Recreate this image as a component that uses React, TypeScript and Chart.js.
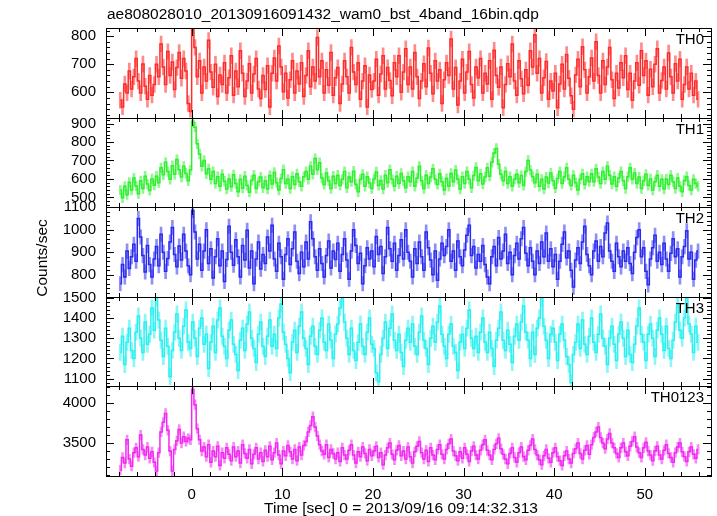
import React, { useEffect, useRef } from 'react';
import { Chart, registerables } from 'chart.js';

Chart.register(...registerables);

const TITLE = 'ae808028010_20130916091432_wam0_bst_4band_16bin.qdp';
const X_LABEL = 'Time [sec] 0 = 2013/09/16 09:14:32.313';
const Y_LABEL = 'Counts/sec';

// time bins (bin centres start at -7.875 s, 0.25 s per bin)
const BIN_START = -7.875;
const BIN_WIDTH = 0.25;
const X_MIN = -9.45;
const X_MAX = 57.3;
const X_TICKS = [0, 10, 20, 30, 40, 50];

const PANEL_NAMES = ['TH0', 'TH1', 'TH2', 'TH3', 'TH0123'];

const TH0 = [
  572, 548, 630, 598, 676, 612, 655, 720, 640, 598, 701, 622, 575, 660, 590, 628,
  700, 655, 772, 690, 628, 745, 660, 708, 610, 688, 742, 650, 720, 676, 560, 532,
  829, 760, 655, 712, 598, 690, 640, 785, 672, 618, 700, 585, 662, 628, 705, 598,
  652, 730, 590, 676, 620, 748, 668, 585, 640, 702, 598, 665, 720, 612, 578, 660,
  610, 695, 548, 668, 722, 640, 765, 690, 602, 668, 580, 645, 712, 598, 676, 630,
  705, 585, 660, 748, 620, 690, 640, 795, 655, 712, 598, 680, 625, 742, 590, 652,
  688, 560, 630, 712, 655, 598, 760, 672, 628, 705, 575, 640, 695, 548, 662, 610,
  640, 718, 590, 665, 730, 612, 688, 642, 588, 705, 655, 730, 600, 672, 755, 628,
  690, 612, 742, 655, 578, 640, 702, 620, 758, 668, 595, 712, 640, 680, 560, 645,
  705, 660, 790, 612, 688, 555, 640, 718, 598, 672, 745, 628, 580, 690, 652, 720,
  598, 668, 630, 712, 575, 750, 660, 618, 690, 545, 628, 702, 655, 772, 640, 590,
  712, 648, 595, 680, 625, 748, 690, 805, 668, 720, 598, 652, 710, 575, 640, 605,
  668, 545, 630, 700, 612, 735, 650, 588, 540, 662, 718, 620, 762, 680, 598, 655,
  722, 640, 780, 660, 598, 712, 628, 690, 760, 645, 578, 668, 615, 705, 652, 730,
  610, 668, 572, 640, 705, 625, 748, 660, 712, 590, 682, 620, 700, 755, 598, 642,
  690, 612, 740, 655, 598, 702, 640, 718, 575, 628, 690, 612, 668, 590, 640, 575,
];

const TH1 = [
  540, 498, 560, 515, 582, 540, 605, 562, 520, 590, 548, 615, 572, 538, 600, 566,
  615, 580, 660, 622, 690, 640, 598, 672, 625, 705, 650, 610, 668, 630, 590, 648,
  912, 880, 790, 735, 668, 700, 628, 655, 598, 640, 575, 612, 560, 625, 588, 545,
  600, 558, 622, 575, 530, 598, 550, 615, 565, 528, 592, 620, 548, 585, 610, 552,
  590, 545, 618, 572, 635, 580, 540, 602, 650, 575, 598, 548, 612, 570, 628, 585,
  560, 612, 640, 598, 668, 625, 710, 650, 688, 605, 570, 632, 590, 548, 615, 575,
  620, 565, 598, 640, 552, 610, 585, 642, 570, 530, 598, 625, 560, 612, 578, 548,
  600, 638, 565, 592, 545, 620, 580, 650, 598, 560, 615, 575, 630, 590, 552, 612,
  585, 640, 560, 605, 668, 590, 548, 620, 575, 610, 655, 598, 570, 628, 585, 540,
  602, 560, 630, 585, 648, 598, 545, 612, 575, 640, 598, 552, 618, 662, 590, 628,
  572, 610, 660, 615, 690, 740, 765, 680, 625, 590, 640, 575, 612, 560, 598, 625,
  580, 618, 565, 640, 700, 648, 612, 580, 625, 560, 598, 545, 610, 578, 632, 590,
  550, 602, 640, 575, 612, 660, 598, 565, 620, 580, 540, 598, 628, 570, 612, 585,
  628, 585, 655, 610, 575, 640, 598, 668, 620, 572, 612, 560, 605, 640, 590, 548,
  612, 660, 598, 632, 575, 610, 548, 590, 625, 565, 600, 540, 585, 620, 560, 598,
  545, 600, 570, 620, 585, 548, 605, 560, 530, 592, 612, 565, 540, 598, 575, 560,
];

const TH2 = [
  760, 845, 790, 905, 828, 880, 935, 860, 1050, 968, 885, 812, 930, 845, 790, 870,
  925, 840, 980, 900, 815, 872, 945, 1010, 890, 835, 928, 865, 980, 905, 840, 800,
  1085, 990, 870, 935, 820, 905, 1000, 850, 915, 785, 880, 960, 840, 905, 770, 868,
  1015, 900, 842, 955, 880, 790, 930, 865, 998, 830, 905, 760, 870, 945, 825, 890,
  850, 968, 905, 1020, 870, 815, 940, 880, 780, 890, 960, 845, 915, 990, 860, 805,
  900, 835, 945, 870, 1035, 960, 880, 820, 915, 850, 790, 885, 950, 830, 905, 868,
  940, 815, 890, 960, 865, 780, 905, 1000, 930, 850, 895, 760, 840, 920, 870, 905,
  835, 970, 890, 925, 805, 880, 1010, 915, 860, 940, 820, 885, 955, 870, 1000, 900,
  860, 790, 915, 850, 945, 880, 820, 990, 920, 865, 800, 905, 775, 870, 940, 885,
  925, 1000, 860, 905, 820, 950, 880, 840, 910, 975, 1020, 885, 925, 830, 890, 860,
  930, 845, 790, 760, 880, 925, 840, 965, 870, 905, 980, 850, 900, 800, 885, 940,
  870, 960, 1010, 895, 840, 920, 860, 800, 905, 850, 945, 880, 985, 860, 915, 835,
  890, 780, 860, 935, 990, 875, 905, 820, 745, 865, 920, 850, 945, 1015, 890, 840,
  800, 905, 950, 860, 925, 880, 985, 1030, 905, 860, 815, 940, 880, 835, 905, 860,
  920, 850, 805, 900, 965, 1000, 880, 920, 815, 755, 870, 920, 975, 860, 900, 845,
  940, 870, 815, 895, 960, 880, 915, 790, 880, 925, 995, 870, 900, 780, 865, 905,
];

const TH3 = [
  1230, 1310, 1170, 1280, 1350, 1240, 1200, 1330, 1410, 1300, 1230, 1380, 1270, 1320, 1450, 1340,
  1500, 1390, 1290, 1210, 1350, 1260, 1110, 1240, 1330, 1420, 1300, 1240, 1360, 1440, 1280, 1250,
  1380, 1300, 1210, 1350, 1400, 1270, 1320, 1150, 1280, 1360, 1230, 1390, 1450, 1310, 1260, 1200,
  1340, 1390, 1270, 1220, 1140, 1290, 1350, 1240, 1370, 1430, 1300, 1250, 1180, 1320, 1380, 1260,
  1210, 1310, 1390, 1260, 1320, 1250, 1400, 1470, 1330, 1270, 1200, 1130, 1280, 1340, 1230, 1360,
  1430, 1300, 1250, 1170, 1310, 1360, 1260, 1220, 1340, 1400, 1280, 1240, 1370, 1290, 1200, 1320,
  1370, 1450, 1500, 1380, 1300, 1220, 1350, 1240, 1190, 1280, 1370, 1260, 1220, 1330, 1400, 1270,
  1250, 1130, 1085, 1220, 1300, 1380, 1250, 1350, 1420, 1290, 1240, 1320, 1230, 1160, 1290, 1350,
  1280, 1370, 1260, 1220, 1330, 1410, 1290, 1250, 1170, 1300, 1360, 1280, 1380, 1460, 1320, 1260,
  1200, 1320, 1370, 1260, 1230, 1140, 1280, 1320, 1250, 1350, 1440, 1300, 1250, 1310, 1230, 1330,
  1400, 1280, 1230, 1330, 1250, 1160, 1290, 1350, 1430, 1290, 1240, 1340, 1270, 1180, 1310, 1370,
  1290, 1380, 1460, 1330, 1290, 1200, 1330, 1220, 1350, 1400, 1500, 1360, 1290, 1200, 1320, 1350,
  1280, 1190, 1320, 1370, 1290, 1210, 1170, 1080, 1220, 1280, 1370, 1250, 1390, 1270, 1220, 1310,
  1400, 1280, 1230, 1320, 1420, 1300, 1260, 1170, 1300, 1360, 1270, 1190, 1320, 1380, 1300, 1210,
  1340, 1220, 1180, 1270, 1360, 1450, 1320, 1280, 1190, 1320, 1370, 1300, 1210, 1340, 1400, 1320,
  1240, 1360, 1250, 1200, 1290, 1380, 1460, 1340, 1300, 1400, 1500, 1370, 1320, 1230, 1360, 1280,
];

const TH0123 = [
  3160, 3320, 3250, 3540, 3300, 3210, 3380, 3440, 3330, 3600, 3420, 3350, 3450, 3310, 3390, 3260,
  3150, 3380, 3640, 3760, 3870, 3660, 3400, 3150, 3420, 3530, 3670, 3500, 3580, 3520, 3560, 3540,
  4170, 3980, 3680, 3540, 3400, 3450, 3330, 3480, 3260, 3400, 3330, 3460, 3220, 3380, 3310, 3440,
  3360, 3280, 3450, 3330, 3400, 3250, 3480, 3370, 3310, 3420, 3240, 3360, 3440, 3300, 3380, 3270,
  3410, 3330, 3460, 3290, 3380, 3500, 3350, 3240, 3400, 3340, 3470, 3390, 3300, 3420, 3280, 3450,
  3350, 3470, 3520, 3640, 3720, 3830, 3700, 3590, 3480, 3400, 3360, 3480, 3320, 3420, 3370, 3300,
  3380, 3270, 3440, 3350, 3300, 3410, 3480, 3350, 3250, 3390, 3330, 3450, 3370, 3280, 3420, 3340,
  3400, 3460, 3320, 3380, 3230, 3350, 3440, 3500, 3360, 3290, 3410, 3470, 3340, 3400, 3300, 3450,
  3330, 3250, 3390, 3460, 3520, 3380, 3300, 3410, 3270, 3440, 3350, 3290, 3420, 3480, 3360, 3300,
  3420, 3490, 3550, 3400, 3340, 3280, 3390, 3310, 3440, 3360, 3270, 3400, 3460, 3350, 3300, 3410,
  3480, 3540, 3410, 3350, 3290, 3420, 3490, 3560, 3430, 3360, 3300, 3240, 3370, 3440, 3320, 3260,
  3380, 3450, 3330, 3290, 3410, 3470, 3550, 3420, 3350, 3290, 3230, 3340, 3420, 3310, 3260, 3380,
  3440, 3330, 3280, 3220, 3340, 3400, 3300, 3250, 3370, 3430, 3500, 3370, 3300, 3410, 3470, 3360,
  3480, 3570, 3640, 3700, 3570, 3500, 3430, 3550, 3620, 3500, 3440, 3370, 3320, 3440, 3500, 3390,
  3340, 3460, 3520, 3580, 3450, 3380, 3320, 3440, 3510, 3400, 3350, 3280, 3400, 3460, 3350, 3300,
  3410, 3480, 3370, 3320, 3260, 3380, 3450, 3500, 3390, 3330, 3270, 3390, 3450, 3360, 3310, 3420,
];

const SERIES = [TH0, TH1, TH2, TH3, TH0123];
const PANEL_ERRORS = [28, 26, 32, 40, 60];
const PANEL_MIN = [510, 447, 702, 1062, 3088];
const PANEL_MAX = [829, 932, 1100, 1505, 4209];
const Y_TICKS_TH0 = [600, 700, 800];
const Y_TICKS_TH1 = [500, 600, 700, 800, 900];
const Y_TICKS_TH2 = [800, 900, 1000, 1100];
const Y_TICKS_TH3 = [1100, 1200, 1300, 1400, 1500];
const Y_TICKS_TH0123 = [3500, 4000];
const Y_TICKS = [Y_TICKS_TH0, Y_TICKS_TH1, Y_TICKS_TH2, Y_TICKS_TH3, Y_TICKS_TH0123];
const Y_MINOR_STEP = [20, 20, 20, 20, 100];

const LINE_COLORS = ['#ff2b2b', '#2ef02e', '#2a2af0', '#2af0f0', '#f02af0'];
const ERR_COLORS = [
  'rgba(255,60,60,0.6)',
  'rgba(50,240,50,0.55)',
  'rgba(50,50,240,0.55)',
  'rgba(40,240,240,0.55)',
  'rgba(240,40,240,0.55)',
];

const FONT = '"Liberation Sans", Arial, Helvetica, sans-serif';

const qdpFrame = {
  id: 'qdpFrame',
  afterDraw(chart: any) {
    const { ctx, chartArea } = chart;
    const xs = chart.scales.x;
    const L = Math.round(chartArea.left);
    const R = Math.round(chartArea.right);
    ctx.save();
    ctx.strokeStyle = '#000';
    ctx.fillStyle = '#000';
    ctx.lineWidth = 1;

    PANEL_NAMES.forEach((name, k) => {
      const ys = chart.scales['y' + k];
      const T = Math.round(ys.top);
      const B = Math.round(ys.bottom);
      ctx.strokeRect(L + 0.5, T + 0.5, R - L, B - T);
      ctx.beginPath();
      const step = Y_MINOR_STEP[k];
      for (let v = Math.ceil(ys.min / step) * step; v <= ys.max; v += step) {
        const py = Math.round(ys.getPixelForValue(v)) + 0.5;
        const len = Y_TICKS[k].includes(v) ? 8 : 4;
        ctx.moveTo(L, py);
        ctx.lineTo(L + len, py);
        ctx.moveTo(R, py);
        ctx.lineTo(R - len, py);
      }
      for (let v = Math.ceil(xs.min / 2) * 2; v <= xs.max; v += 2) {
        const px = Math.round(xs.getPixelForValue(v)) + 0.5;
        const len = v % 10 === 0 ? 8 : 4;
        ctx.moveTo(px, T);
        ctx.lineTo(px, T + len);
        ctx.moveTo(px, B);
        ctx.lineTo(px, B - len);
      }
      ctx.stroke();

      ctx.font = '15px ' + FONT;
      ctx.textAlign = 'right';
      ctx.textBaseline = 'middle';
      Y_TICKS[k].forEach((v) => {
        ctx.fillText(String(v), 96, ys.getPixelForValue(v));
      });

      ctx.font = '15px ' + FONT;
      ctx.textAlign = 'right';
      ctx.textBaseline = 'alphabetic';
      ctx.fillText(name, 704, T + 16);
    });

    ctx.font = '15px ' + FONT;
    ctx.textAlign = 'center';
    ctx.textBaseline = 'alphabetic';
    X_TICKS.forEach((v) => {
      ctx.fillText(String(v), xs.getPixelForValue(v), 499);
    });

    ctx.font = '15.5px ' + FONT;
    ctx.fillText(X_LABEL, 401, 513);

    ctx.textAlign = 'left';
    ctx.fillText(TITLE, 107, 19);

    ctx.save();
    ctx.translate(47, 258);
    ctx.rotate(-Math.PI / 2);
    ctx.textAlign = 'center';
    ctx.fillText(Y_LABEL, 0, 0);
    ctx.restore();

    ctx.restore();
  },
};

function buildConfig(): any {
  const datasets: any[] = [];
  SERIES.forEach((vals, k) => {
    const err = PANEL_ERRORS[k];
    datasets.push({
      type: 'bar',
      data: vals.map((v, i) => ({ x: BIN_START + i * BIN_WIDTH, y: [v - err, v + err] })),
      xAxisID: 'x',
      yAxisID: 'y' + k,
      backgroundColor: ERR_COLORS[k],
      borderWidth: 0,
      barThickness: 2,
      grouped: false,
      order: 2,
      clip: 0,
    });
    datasets.push({
      type: 'line',
      data: vals.map((v, i) => ({ x: BIN_START + i * BIN_WIDTH, y: v })),
      xAxisID: 'x',
      yAxisID: 'y' + k,
      borderColor: LINE_COLORS[k],
      borderWidth: 1.5,
      pointRadius: 0,
      stepped: 'middle',
      fill: false,
      order: 1,
      clip: 0,
    });
  });

  const scales: any = {
    x: {
      type: 'linear',
      position: 'bottom',
      min: X_MIN,
      max: X_MAX,
      offset: false,
      display: false,
    },
  };
  PANEL_NAMES.forEach((_, k) => {
    scales['y' + k] = {
      type: 'linear',
      position: 'left',
      stack: 'panels',
      stackWeight: 1,
      weight: PANEL_NAMES.length - k,
      min: PANEL_MIN[k],
      max: PANEL_MAX[k],
      offset: false,
      display: false,
    };
  });

  return {
    type: 'line',
    data: { datasets },
    options: {
      animation: false,
      responsive: false,
      devicePixelRatio: 1,
      events: [],
      layout: { padding: { left: 106, right: 6, top: 28, bottom: 40 } },
      plugins: {
        legend: { display: false },
        tooltip: { enabled: false },
        title: { display: false },
      },
      scales,
    },
    plugins: [qdpFrame],
  };
}

export default function App() {
  const ref = useRef<HTMLCanvasElement>(null);
  useEffect(() => {
    const chart = new Chart(ref.current as HTMLCanvasElement, buildConfig());
    return () => chart.destroy();
  }, []);
  return (
    <div style={{ position: 'absolute', left: 0, top: 0, width: 717, height: 516, background: '#fff' }}>
      <canvas ref={ref} width={717} height={516} style={{ display: 'block' }} />
    </div>
  );
}
